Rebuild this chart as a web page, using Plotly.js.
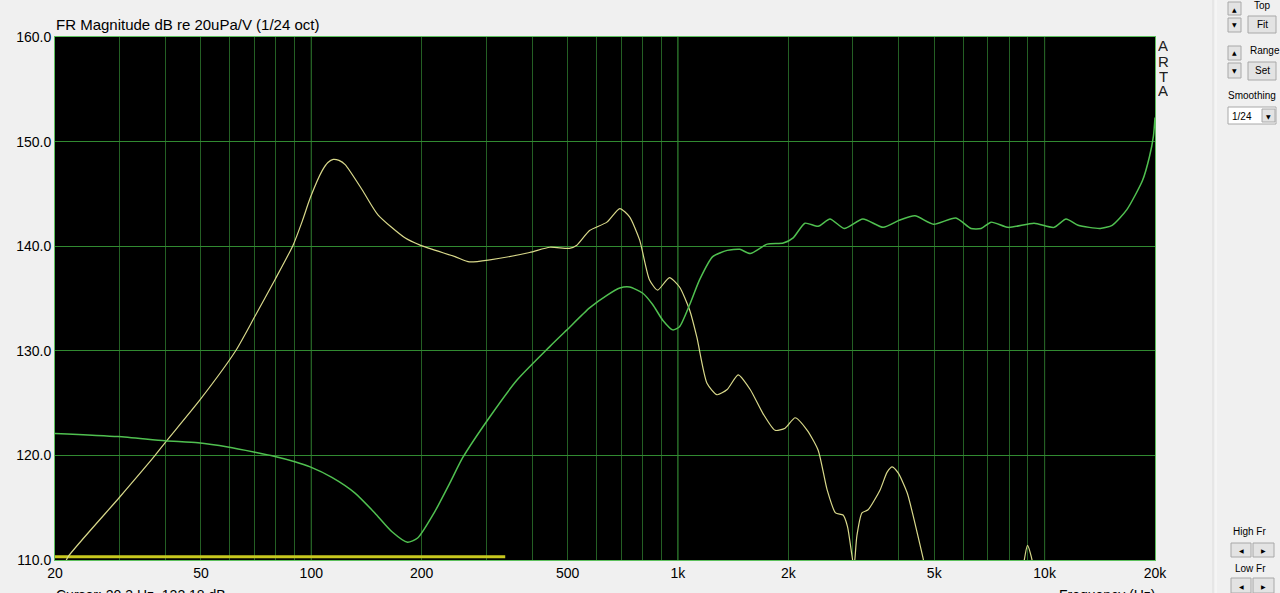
<!DOCTYPE html>
<html>
<head>
<meta charset="utf-8">
<script src="https://cdn.plot.ly/plotly-3.0.1.min.js"></script>
<style>html,body{margin:0;padding:0;background:#f0f0f0;overflow:hidden}#chart{width:1280px;height:593px}</style>
</head>
<body>
<div id="chart"></div>
<script>
// ---- data ----
const yellowFreq = [21.2, 21.7, 30, 37.5, 39.9, 49.7, 62.2, 70.2, 79.6, 89.2, 94.5, 99.3, 107, 111, 114.8, 119, 123.7, 137.6, 152, 180, 198, 246.6, 270, 307, 394, 447, 506, 530, 574, 640, 694, 738, 786, 836, 880, 948, 1010, 1076, 1126, 1200, 1278, 1362, 1460, 1574, 1706, 1840, 1960, 2088, 2252, 2412, 2552, 2690, 2820, 2900, 2980, 3020, 3076, 3176, 3300, 3558, 3720, 3840, 3990, 4220, 4430, 4660, 4900, 8600, 8800, 8980, 9200, 9450];
const yellowDb   = [109.5, 110.3, 116.0, 120.0, 121.2, 125.3, 130.0, 133.3, 136.8, 140.1, 142.4, 144.6, 147.2, 148.0, 148.3, 148.2, 147.8, 145.4, 143.0, 140.8, 140.1, 139.0, 138.5, 138.7, 139.4, 139.9, 139.8, 140.1, 141.5, 142.3, 143.6, 142.8, 140.6, 136.8, 135.8, 137.0, 136.1, 133.9, 131.3, 126.9, 125.8, 126.3, 127.7, 126.3, 124.0, 122.4, 122.6, 123.6, 122.4, 120.5, 116.7, 114.5, 114.3, 113.2, 110.5, 109.3, 112.3, 114.5, 114.8, 116.7, 118.4, 118.9, 118.3, 116.4, 113.5, 110.2, 107.0, 107.0, 110.0, 111.4, 110.3, 108.0];

const greenFreq = [20, 29.7, 39.9, 49.1, 59.2, 70.2, 79.6, 90.2, 99.3, 113.8, 131.6, 149, 166, 183, 195, 217, 239, 259, 307, 364, 447, 498, 574, 640, 694, 738, 802, 854, 910, 968, 1010, 1076, 1146, 1244, 1362, 1474, 1574, 1752, 1938, 2062, 2220, 2412, 2598, 2840, 3194, 3628, 4028, 4430, 4976, 5726, 6296, 6710, 7150, 7960, 9360, 10600, 11440, 12340, 14180, 15280, 16760, 18500, 19300, 19800, 20000];
const greenDb   = [122.1, 121.8, 121.4, 121.2, 120.8, 120.3, 119.9, 119.4, 118.9, 117.9, 116.4, 114.5, 112.7, 111.7, 112.1, 114.6, 117.4, 119.8, 123.7, 127.2, 130.4, 132.0, 134.1, 135.3, 136.0, 136.1, 135.5, 134.4, 132.9, 132.0, 132.3, 134.4, 136.8, 139.0, 139.6, 139.7, 139.3, 140.2, 140.3, 140.8, 142.2, 141.9, 142.6, 141.7, 142.6, 141.8, 142.5, 142.9, 142.1, 142.7, 141.7, 141.7, 142.3, 141.8, 142.2, 141.8, 142.6, 142.0, 141.7, 142.0, 143.5, 146.3, 148.5, 150.5, 152.3];

const baseFreq = [20, 338];
const baseDb   = [110.3, 110.3];

const xGridVals = [20,30,40,50,60,70,80,90,100,200,300,400,500,600,700,800,900,1000,2000,3000,4000,5000,6000,7000,8000,9000,10000,20000];
const xLabelMap = {20:'20',50:'50',100:'100',200:'200',500:'500',1000:'1k',2000:'2k',5000:'5k',10000:'10k',20000:'20k'};
const decadeVals = [100, 1000, 10000];
const yTickVals = [110, 120, 130, 140, 150, 160];
const yTickText = ['110.0', '120.0', '130.0', '140.0', '150.0', '160.0'];

const titleText = 'FR Magnitude dB re 20uPa/V (1/24 oct)';
const cursorText = 'Cursor: 20.3 Hz, 122.18 dB';
const xTitleText = 'Frequency (Hz)';
const brandLetters = ['A', 'R', 'T', 'A'];

// ---- layout helpers (pixel -> paper) ----
const L = 55, R = 1155, T = 37, B = 560;
const px = x => (x - L) / (R - L);
const py = y => (B - y) / (B - T);
const FONT = 'Liberation Sans, Arial, sans-serif';

const traces = [
  {x: baseFreq, y: baseDb, mode: 'lines', line: {color: '#c8c81e', width: 3}, hoverinfo: 'skip'},
  {x: yellowFreq, y: yellowDb, mode: 'lines', line: {color: '#d8d88a', width: 1.2, shape: 'spline', smoothing: 0.6}},
  {x: greenFreq, y: greenDb, mode: 'lines', line: {color: '#50c050', width: 1.5, shape: 'spline', smoothing: 0.6}}
];

const shapes = [];
decadeVals.forEach(v => shapes.push({type: 'line', xref: 'x', yref: 'paper', x0: v, x1: v, y0: 0, y1: 1, layer: 'between', line: {color: '#369636', width: 1}}));

function rect(x0, y0, x1, y1, fill) {
  shapes.push({type: 'rect', xref: 'paper', yref: 'paper', x0: px(x0), x1: px(x1), y0: py(y1), y1: py(y0), line: {color: '#a8a8a8', width: 1}, fillcolor: fill || '#e3e3e3', layer: 'above'});
}
// right panel separator
shapes.push({type: 'line', xref: 'paper', yref: 'paper', x0: px(1213), x1: px(1213), y0: py(593), y1: py(0), line: {color: '#dcdcdc', width: 1}});
shapes.push({type: 'line', xref: 'paper', yref: 'paper', x0: px(1216), x1: px(1216), y0: py(593), y1: py(0), line: {color: '#fafafa', width: 1}});
// buttons
rect(1228, 2, 1241, 15); rect(1228, 18, 1241, 32); rect(1248, 16, 1276, 33);
rect(1228, 46, 1241, 60); rect(1228, 63, 1241, 78); rect(1248, 62, 1276, 80);
rect(1228, 107, 1276, 124, '#ffffff'); rect(1262, 109, 1275, 122);
rect(1231, 543, 1251, 557); rect(1253, 543, 1274, 557);
rect(1231, 578, 1251, 593); rect(1253, 578, 1274, 593);

const annotations = [];
function txt(text, x, y, size, xanchor, extra) {
  annotations.push(Object.assign({text: text, xref: 'paper', yref: 'paper', x: px(x), y: py(y), xanchor: xanchor || 'left', yanchor: 'middle', showarrow: false, borderpad: 0, font: {family: FONT, size: size || 10, color: '#000'}}, extra || {}));
}
const glyph = {font: {family: 'DejaVu Sans', size: 6, color: '#000'}};
txt(titleText, 55, 25, 15);
brandLetters.forEach((c, i) => txt(c, 1163, 46 + i * 15, 15, 'center', {height: 13, font: {family: FONT, size: 15, color: '#202020'}}));
txt('Top', 1253, 5, 10);
txt('\u25B2', 1234.5, 9, 6, 'center', glyph);
txt('\u25BC', 1234.5, 25, 6, 'center', glyph);
txt('Fit', 1262, 24.5, 10, 'center');
txt('Range', 1249, 50, 10);
txt('\u25B2', 1234.5, 53, 6, 'center', glyph);
txt('\u25BC', 1234.5, 71, 6, 'center', glyph);
txt('Set', 1262, 71, 10, 'center');
txt('Smoothing', 1227, 95, 10);
txt('1/24', 1231, 116, 10);
txt('\u25BC', 1268.5, 116, 6, 'center', glyph);
txt('High Fr', 1232, 531, 10);
txt('\u25C0', 1241, 550, 6, 'center', glyph);
txt('\u25B6', 1263.5, 550, 6, 'center', glyph);
txt('Low Fr', 1234, 568, 10);
txt('\u25C0', 1241, 586, 6, 'center', glyph);
txt('\u25B6', 1263.5, 586, 6, 'center', glyph);
txt(cursorText, 55, 586, 14, 'left', {yanchor: 'top'});
txt(xTitleText, 1058, 586, 14, 'left', {yanchor: 'top'});

const layout = {
  width: 1280, height: 593,
  margin: {l: L, r: 1280 - R, t: T, b: 593 - B, pad: 0},
  paper_bgcolor: '#f0f0f0', plot_bgcolor: '#000000',
  showlegend: false,
  font: {family: FONT, size: 14, color: '#000'},
  xaxis: {
    type: 'log', range: [Math.log10(20), Math.log10(20000)],
    tickmode: 'array', tickvals: xGridVals, ticktext: xGridVals.map(v => xLabelMap[v] || ''),
    gridcolor: '#245f24', gridwidth: 1, showline: true, mirror: true, linecolor: '#5cc05c', linewidth: 1,
    ticks: '', zeroline: false, tickfont: {family: FONT, size: 14, color: '#000'}, fixedrange: true
  },
  yaxis: {
    range: [110, 160], tickmode: 'array', tickvals: yTickVals, ticktext: yTickText,
    gridcolor: '#318a31', gridwidth: 1, showline: true, mirror: true, linecolor: '#5cc05c', linewidth: 1,
    ticks: '', zeroline: false, tickfont: {family: FONT, size: 14, color: '#000'}, fixedrange: true
  },
  shapes: shapes,
  annotations: annotations
};

Plotly.newPlot('chart', traces, layout, {displayModeBar: false, staticPlot: true});
</script>
</body>
</html>
